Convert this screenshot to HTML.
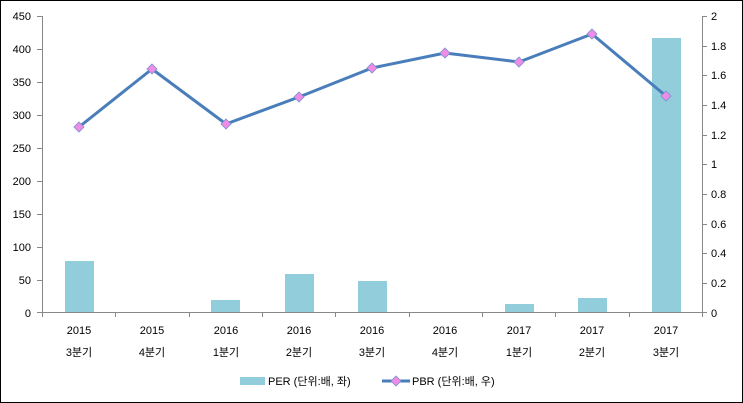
<!DOCTYPE html>
<html><head><meta charset="utf-8"><style>
html,body{margin:0;padding:0;background:#fff}
svg{display:block}
text{font-family:"Liberation Sans","Noto Sans CJK KR",sans-serif;font-size:11px;fill:#000}
</style></head><body>
<svg width="743" height="403" viewBox="0 0 743 403">
<rect x="0.5" y="0.5" width="742" height="402" fill="#fff" stroke="#000"/>
<g fill="#92CDDC">
<rect x="65" y="261" width="29" height="51"/>
<rect x="211" y="300" width="29" height="12"/>
<rect x="285" y="274" width="29" height="38"/>
<rect x="358" y="281" width="29" height="31"/>
<rect x="505" y="304" width="29" height="8"/>
<rect x="578" y="298" width="29" height="14"/>
<rect x="652" y="38" width="29" height="274"/>
</g>
<g stroke="#888" stroke-width="1" fill="none">
<path d="M42.5 16V312.5H702.5V16"/>
<path d="M37 16.5h5M37 49.5h5M37 82.5h5M37 115.5h5M37 148.5h5M37 181.5h5M37 214.5h5M37 247.5h5M37 280.5h5M37 312.5h5"/>
<path d="M702 16.5h5M702 46.5h5M702 75.5h5M702 105.5h5M702 135.5h5M702 164.5h5M702 194.5h5M702 224.5h5M702 253.5h5M702 283.5h5M702 312.5h5"/>
<path d="M42.5 312v5M115.5 312v5M189.5 312v5M262.5 312v5M335.5 312v5M409.5 312v5M482.5 312v5M555.5 312v5M629.5 312v5M702.5 312v5"/>
</g>
<g text-anchor="end">
<text x="31" y="20">450</text><text x="31" y="53">400</text><text x="31" y="86">350</text><text x="31" y="119">300</text><text x="31" y="152">250</text><text x="31" y="185">200</text><text x="31" y="218">150</text><text x="31" y="251">100</text><text x="31" y="284">50</text><text x="31" y="317">0</text>
</g>
<g>
<text x="711" y="20">2</text><text x="711" y="50">1.8</text><text x="711" y="79">1.6</text><text x="711" y="109">1.4</text><text x="711" y="139">1.2</text><text x="711" y="168">1</text><text x="711" y="198">0.8</text><text x="711" y="228">0.6</text><text x="711" y="257">0.4</text><text x="711" y="287">0.2</text><text x="711" y="317">0</text>
</g>
<g text-anchor="middle">
<text x="79" y="334">2015</text><text x="79" y="356">3분기</text>
<text x="152" y="334">2015</text><text x="152" y="356">4분기</text>
<text x="226" y="334">2016</text><text x="226" y="356">1분기</text>
<text x="299" y="334">2016</text><text x="299" y="356">2분기</text>
<text x="372" y="334">2016</text><text x="372" y="356">3분기</text>
<text x="445" y="334">2016</text><text x="445" y="356">4분기</text>
<text x="519" y="334">2017</text><text x="519" y="356">1분기</text>
<text x="592" y="334">2017</text><text x="592" y="356">2분기</text>
<text x="666" y="334">2017</text><text x="666" y="356">3분기</text>
</g>
<polyline fill="none" stroke="#4A7EBB" stroke-width="3" stroke-linejoin="round" points="79,127 152,69 226,124 299,97 372,68 445,53 519,62 592,34 666,96"/>
<g fill="#F08CE6" stroke="#7A8FD0" stroke-width="0.8">
<path d="M79 122l5 5-5 5-5-5z"/><path d="M152 64l5 5-5 5-5-5z"/><path d="M226 119l5 5-5 5-5-5z"/><path d="M299 92l5 5-5 5-5-5z"/><path d="M372 63l5 5-5 5-5-5z"/><path d="M445 48l5 5-5 5-5-5z"/><path d="M519 57l5 5-5 5-5-5z"/><path d="M592 29l5 5-5 5-5-5z"/><path d="M666 91l5 5-5 5-5-5z"/>
</g>
<rect x="240" y="377" width="25" height="8" fill="#92CDDC"/>
<text x="268" y="385">PER (단위:배, 좌)</text>
<line x1="382" y1="381" x2="410" y2="381" stroke="#4A7EBB" stroke-width="3"/>
<path d="M396 376l5 5-5 5-5-5z" fill="#F08CE6" stroke="#7A8FD0" stroke-width="0.8"/>
<text x="412" y="385">PBR (단위:배, 우)</text>
</svg>
</body></html>
